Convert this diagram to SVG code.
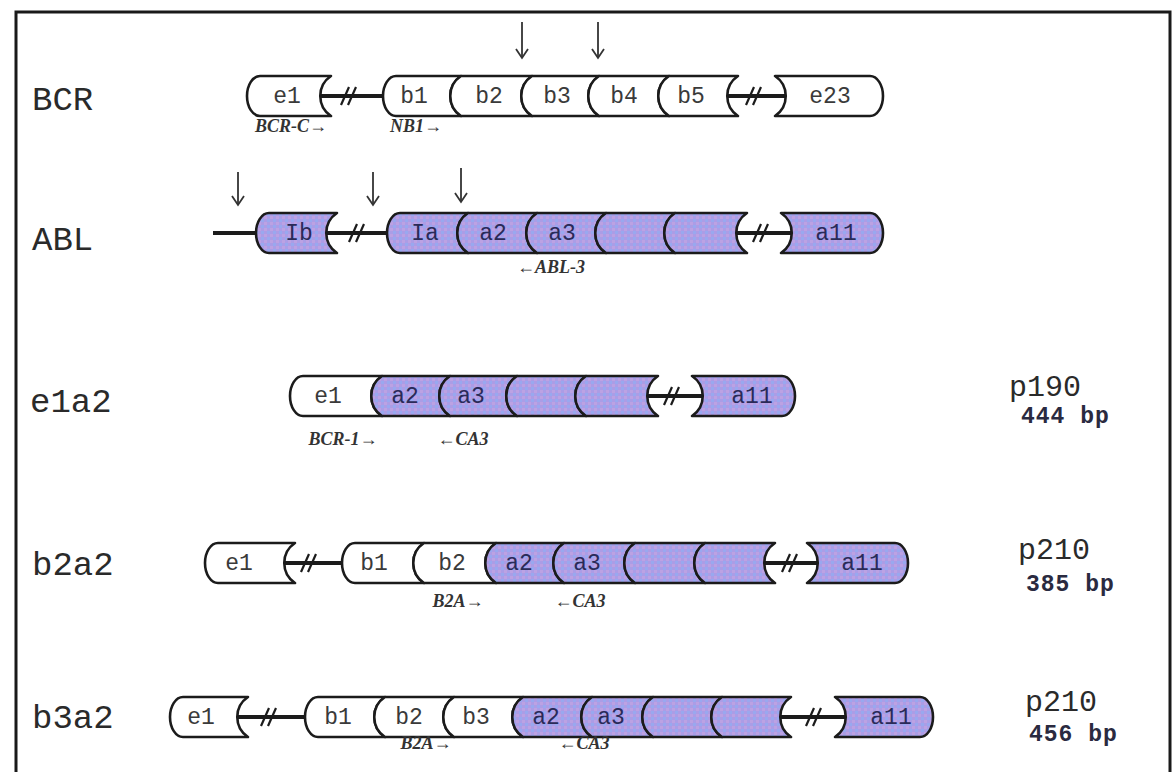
<svg xmlns="http://www.w3.org/2000/svg" width="1174" height="772" viewBox="0 0 1174 772">
  <defs>
    <!-- mottled lavender fill used for ABL exons -->
    <pattern id="ablFill" width="6" height="6" patternUnits="userSpaceOnUse">
      <rect width="6" height="6" fill="#ab9de6"/>
      <rect width="3" height="3" fill="#bca2e3"/>
      <rect x="3" y="3" width="3" height="3" fill="#99a8ef"/>
    </pattern>
    <!-- open arrowhead, drawn along +x so orient="auto" points it down the line -->
    <marker id="head" markerWidth="14" markerHeight="14" refX="12" refY="7" orient="auto" markerUnits="userSpaceOnUse" viewBox="0 0 14 14">
      <path d="M3,1 L12,7 L3,13" fill="none" stroke="#333" stroke-width="1.8"/>
    </marker>
  </defs>
  <style>
    .ex { stroke: #1b1b1b; stroke-width: 2.6; stroke-linejoin: round; }
    .bcr { fill: #ffffff; }
    .abl { fill: url(#ablFill); }
    .lbl { font-family: "Liberation Mono", "DejaVu Sans Mono", monospace; font-size: 23px; text-anchor: middle; fill: #3a3a3a; }
    .lbl.dk { fill: #2a2a58; }
    .row { font-family: "Liberation Mono", "DejaVu Sans Mono", monospace; font-size: 34px; fill: #2a2a2a; }
    .prot { font-family: "Liberation Mono", "DejaVu Sans Mono", monospace; font-size: 30px; fill: #2a2a2a; }
    .size { font-family: "Liberation Mono", "DejaVu Sans Mono", monospace; font-size: 23px; font-weight: bold; letter-spacing: 1px; fill: #2a2a40; }
    .primer { font-family: "Liberation Serif", "DejaVu Serif", serif; font-style: italic; font-weight: bold; font-size: 18px; text-anchor: middle; fill: #333; }
    .intron { stroke: #1b1b1b; stroke-width: 4; fill: none; }
    .brk { stroke: #1b1b1b; stroke-width: 2.2; fill: none; }
    .bp { stroke: #333; stroke-width: 1.8; marker-end: url(#head); }
  </style>

  <rect width="1174" height="772" fill="#ffffff"/>
  <!-- frame -->
  <rect x="16" y="12" width="1154" height="800" fill="none" stroke="#1a1a1a" stroke-width="3"/>

  <!-- row titles -->
  <g id="row-labels">
    <text class="row" x="32" y="110">BCR</text>
    <text class="row" x="32" y="250">ABL</text>
    <text class="row" x="30" y="412">e1a2</text>
    <text class="row" x="32" y="575">b2a2</text>
    <text class="row" x="32" y="728">b3a2</text>
  </g>

  <!-- introns, break marks and breakpoint arrows -->
  <g id="connectors">
    <path class="intron" d="M320,96 H383 M727,96 H786"/>
    <path class="intron" d="M213,233 H256 M326,233 H387 M736,233 H792"/>
    <path class="intron" d="M647,396 H703"/>
    <path class="intron" d="M284,563 H342 M764,563 H818"/>
    <path class="intron" d="M237,717 H305 M780,717 H846"/>

    <path class="brk" d="M341,105 L349,87 M348,105 L356,87 M746,105 L754,87 M753,105 L761,87"/>
    <path class="brk" d="M349,242 L357,224 M356,242 L364,224 M753,242 L761,224 M760,242 L768,224"/>
    <path class="brk" d="M664,405 L672,387 M671,405 L679,387"/>
    <path class="brk" d="M301,572 L309,554 M308,572 L316,554 M782,572 L790,554 M789,572 L797,554"/>
    <path class="brk" d="M261,726 L269,708 M268,726 L276,708 M806,726 L814,708 M813,726 L821,708"/>

    <line class="bp" x1="522" y1="22" x2="522" y2="58"/>
    <line class="bp" x1="598" y1="22" x2="598" y2="58"/>
    <line class="bp" x1="238" y1="172" x2="238" y2="205"/>
    <line class="bp" x1="373" y1="172" x2="373" y2="205"/>
    <line class="bp" x1="461" y1="168" x2="461" y2="202"/>
  </g>

  <!-- BCR gene -->
  <g id="bcr-e1"><path class="ex bcr" d="M260,76 H331 A24,24 0 0 0 331,116 H260 A13,20 0 0 1 260,76 Z"/><text class="lbl" x="287" y="103">e1</text></g>
  <g id="bcr-b1"><path class="ex bcr" d="M396,76 H461 A24,24 0 0 0 461,116 H396 A13,20 0 0 1 396,76 Z"/><text class="lbl" x="414" y="103">b1</text></g>
  <g id="bcr-b2"><path class="ex bcr" d="M461,76 H532 A24,24 0 0 0 532,116 H461 A24,24 0 0 1 461,76 Z"/><text class="lbl" x="489" y="103">b2</text></g>
  <g id="bcr-b3"><path class="ex bcr" d="M532,76 H599 A24,24 0 0 0 599,116 H532 A24,24 0 0 1 532,76 Z"/><text class="lbl" x="557" y="103">b3</text></g>
  <g id="bcr-b4"><path class="ex bcr" d="M599,76 H669 A24,24 0 0 0 669,116 H599 A24,24 0 0 1 599,76 Z"/><text class="lbl" x="624" y="103">b4</text></g>
  <g id="bcr-b5"><path class="ex bcr" d="M669,76 H738 A24,24 0 0 0 738,116 H669 A24,24 0 0 1 669,76 Z"/><text class="lbl" x="691" y="103">b5</text></g>
  <g id="bcr-e23"><path class="ex bcr" d="M775,76 H870 A13,20 0 0 1 870,116 H775 A24,24 0 0 0 775,76 Z"/><text class="lbl" x="830" y="103">e23</text></g>
  <g id="bcr-primers">
    <text class="primer" x="291" y="132">BCR-C→</text>
    <text class="primer" x="416" y="132">NB1→</text>
  </g>

  <!-- ABL gene -->
  <g id="abl-ib"><path class="ex abl" d="M269,213 H337 A24,24 0 0 0 337,253 H269 A13,20 0 0 1 269,213 Z"/><text class="lbl dk" x="299" y="240">Ib</text></g>
  <g id="abl-ia"><path class="ex abl" d="M400,213 H468 A24,24 0 0 0 468,253 H400 A13,20 0 0 1 400,213 Z"/><text class="lbl dk" x="425" y="240">Ia</text></g>
  <g id="abl-a2"><path class="ex abl" d="M468,213 H537 A24,24 0 0 0 537,253 H468 A24,24 0 0 1 468,213 Z"/><text class="lbl dk" x="493" y="240">a2</text></g>
  <g id="abl-a3"><path class="ex abl" d="M537,213 H606 A24,24 0 0 0 606,253 H537 A24,24 0 0 1 537,213 Z"/><text class="lbl dk" x="562" y="240">a3</text></g>
  <g id="abl-x1"><path class="ex abl" d="M606,213 H675 A24,24 0 0 0 675,253 H606 A24,24 0 0 1 606,213 Z"/></g>
  <g id="abl-x2"><path class="ex abl" d="M675,213 H747 A24,24 0 0 0 747,253 H675 A24,24 0 0 1 675,213 Z"/></g>
  <g id="abl-a11"><path class="ex abl" d="M781,213 H870 A13,20 0 0 1 870,253 H781 A24,24 0 0 0 781,213 Z"/><text class="lbl dk" x="836" y="240">a11</text></g>
  <g id="abl-primers">
    <text class="primer" x="551" y="273">←ABL-3</text>
  </g>

  <!-- e1a2 transcript -->
  <g id="e1a2-e1"><path class="ex bcr" d="M303,376 H382 A24,24 0 0 0 382,416 H303 A13,20 0 0 1 303,376 Z"/><text class="lbl" x="328" y="403">e1</text></g>
  <g id="e1a2-a2"><path class="ex abl" d="M382,376 H450 A24,24 0 0 0 450,416 H382 A24,24 0 0 1 382,376 Z"/><text class="lbl dk" x="405" y="403">a2</text></g>
  <g id="e1a2-a3"><path class="ex abl" d="M450,376 H517 A24,24 0 0 0 517,416 H450 A24,24 0 0 1 450,376 Z"/><text class="lbl dk" x="471" y="403">a3</text></g>
  <g id="e1a2-x1"><path class="ex abl" d="M517,376 H586 A24,24 0 0 0 586,416 H517 A24,24 0 0 1 517,376 Z"/></g>
  <g id="e1a2-x2"><path class="ex abl" d="M586,376 H658 A24,24 0 0 0 658,416 H586 A24,24 0 0 1 586,376 Z"/></g>
  <g id="e1a2-a11"><path class="ex abl" d="M692,376 H782 A13,20 0 0 1 782,416 H692 A24,24 0 0 0 692,376 Z"/><text class="lbl dk" x="752" y="403">a11</text></g>
  <g id="e1a2-primers">
    <text class="primer" x="343" y="445">BCR-1→</text>
    <text class="primer" x="463" y="445">←CA3</text>
  </g>
  <g id="e1a2-product">
    <text class="prot" x="1009" y="396">p190</text>
    <text class="size" x="1021" y="423">444 bp</text>
  </g>

  <!-- b2a2 transcript -->
  <g id="b2a2-e1"><path class="ex bcr" d="M218,543 H295 A24,24 0 0 0 295,583 H218 A13,20 0 0 1 218,543 Z"/><text class="lbl" x="239" y="570">e1</text></g>
  <g id="b2a2-b1"><path class="ex bcr" d="M355,543 H424 A24,24 0 0 0 424,583 H355 A13,20 0 0 1 355,543 Z"/><text class="lbl" x="374" y="570">b1</text></g>
  <g id="b2a2-b2"><path class="ex bcr" d="M424,543 H496 A24,24 0 0 0 496,583 H424 A24,24 0 0 1 424,543 Z"/><text class="lbl" x="452" y="570">b2</text></g>
  <g id="b2a2-a2"><path class="ex abl" d="M496,543 H564 A24,24 0 0 0 564,583 H496 A24,24 0 0 1 496,543 Z"/><text class="lbl dk" x="519" y="570">a2</text></g>
  <g id="b2a2-a3"><path class="ex abl" d="M564,543 H635 A24,24 0 0 0 635,583 H564 A24,24 0 0 1 564,543 Z"/><text class="lbl dk" x="587" y="570">a3</text></g>
  <g id="b2a2-x1"><path class="ex abl" d="M635,543 H705 A24,24 0 0 0 705,583 H635 A24,24 0 0 1 635,543 Z"/></g>
  <g id="b2a2-x2"><path class="ex abl" d="M705,543 H775 A24,24 0 0 0 775,583 H705 A24,24 0 0 1 705,543 Z"/></g>
  <g id="b2a2-a11"><path class="ex abl" d="M807,543 H895 A13,20 0 0 1 895,583 H807 A24,24 0 0 0 807,543 Z"/><text class="lbl dk" x="862" y="570">a11</text></g>
  <g id="b2a2-primers">
    <text class="primer" x="458" y="607">B2A→</text>
    <text class="primer" x="580" y="607">←CA3</text>
  </g>
  <g id="b2a2-product">
    <text class="prot" x="1018" y="559">p210</text>
    <text class="size" x="1026" y="591">385 bp</text>
  </g>

  <!-- b3a2 transcript -->
  <g id="b3a2-e1"><path class="ex bcr" d="M183,697 H248 A24,24 0 0 0 248,737 H183 A13,20 0 0 1 183,697 Z"/><text class="lbl" x="201" y="724">e1</text></g>
  <g id="b3a2-b1"><path class="ex bcr" d="M318,697 H385 A24,24 0 0 0 385,737 H318 A13,20 0 0 1 318,697 Z"/><text class="lbl" x="338" y="724">b1</text></g>
  <g id="b3a2-b2"><path class="ex bcr" d="M385,697 H454 A24,24 0 0 0 454,737 H385 A24,24 0 0 1 385,697 Z"/><text class="lbl" x="409" y="724">b2</text></g>
  <g id="b3a2-b3"><path class="ex bcr" d="M454,697 H523 A24,24 0 0 0 523,737 H454 A24,24 0 0 1 454,697 Z"/><text class="lbl" x="476" y="724">b3</text></g>
  <g id="b3a2-a2"><path class="ex abl" d="M523,697 H592 A24,24 0 0 0 592,737 H523 A24,24 0 0 1 523,697 Z"/><text class="lbl dk" x="546" y="724">a2</text></g>
  <g id="b3a2-a3"><path class="ex abl" d="M592,697 H653 A24,24 0 0 0 653,737 H592 A24,24 0 0 1 592,697 Z"/><text class="lbl dk" x="611" y="724">a3</text></g>
  <g id="b3a2-x1"><path class="ex abl" d="M653,697 H722 A24,24 0 0 0 722,737 H653 A24,24 0 0 1 653,697 Z"/></g>
  <g id="b3a2-x2"><path class="ex abl" d="M722,697 H791 A24,24 0 0 0 791,737 H722 A24,24 0 0 1 722,697 Z"/></g>
  <g id="b3a2-a11"><path class="ex abl" d="M835,697 H920 A13,20 0 0 1 920,737 H835 A24,24 0 0 0 835,697 Z"/><text class="lbl dk" x="891" y="724">a11</text></g>
  <g id="b3a2-primers">
    <text class="primer" x="426" y="749">B2A→</text>
    <text class="primer" x="584" y="749">←CA3</text>
  </g>
  <g id="b3a2-product">
    <text class="prot" x="1025" y="711">p210</text>
    <text class="size" x="1029" y="741">456 bp</text>
  </g>
</svg>
